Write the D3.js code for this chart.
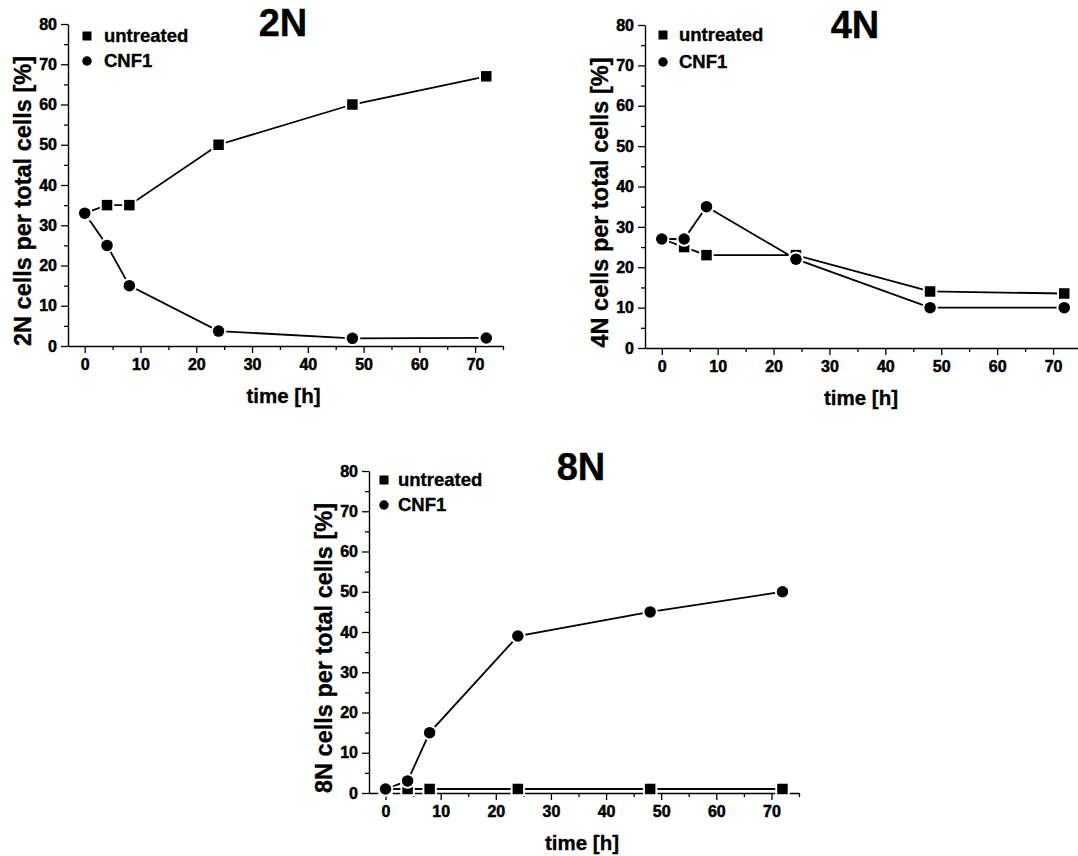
<!DOCTYPE html>
<html>
<head>
<meta charset="utf-8">
<script src="https://cdn.jsdelivr.net/npm/d3@7"></script>
<style>
  html, body { margin: 0; padding: 0; background: #fff; }
  svg { display: block; }
  svg text { font-family: "Liberation Sans", Arial, sans-serif; font-weight: bold; fill: #000; stroke: #000; stroke-width: 0.35px; }
  svg .tick text { font-size: 16px; stroke-width: 0.5px; }
</style>
</head>
<body>
<svg id="chart" width="1078" height="856"></svg>
<script>
// Sampling times (hours after treatment)
const hours = [0, 4, 8, 24, 48, 72];

// Percentage of cells per ploidy class
const untreated2N = [33, 35, 35, 50, 60, 67];
const cnf2N       = [33, 25, 15, 3.7, 1.9, 2];
const untreated4N = [27, 25, 23, 23, 14, 13.5];
const cnf4N       = [27, 27, 35, 22, 10, 10];
const untreated8N = [1, 1, 1, 1, 1, 1];
const cnf8N       = [1, 3, 15, 39, 45, 50];

// Axis ticks
const xTicks = [0, 10, 20, 30, 40, 50, 60, 70];
const xMinorTicks = [5, 15, 25, 35, 45, 55, 65, 75];
const yTicks = [0, 10, 20, 30, 40, 50, 60, 70, 80];
const yMinorTicks = [5, 15, 25, 35, 45, 55, 65, 75];

const seriesNames = ["untreated", "CNF1"];

// Panel layout
const panels = [
  { title: "2N", untreated: untreated2N, cnf: cnf2N,
    left: 68, right: 503, top: 24, bottom: 346,
    titleX: 283, titleY: 36, legDx: 19, legDy1: 12, legDy2: 37, legTx: 36 },
  { title: "4N", untreated: untreated4N, cnf: cnf4N,
    left: 645, right: 1081, top: 25, bottom: 348,
    titleX: 855, titleY: 38, legDx: 18, legDy1: 10, legDy2: 37, legTx: 34 },
  { title: "8N", untreated: untreated8N, cnf: cnf8N,
    left: 369, right: 799, top: 471, bottom: 793,
    titleX: 581, titleY: 480, legDx: 15, legDy1: 9, legDy2: 34, legTx: 29 }
];

const svg = d3.select("#chart");

const sq = d3.symbol().type(d3.symbolSquare);
const ci = d3.symbol().type(d3.symbolCircle);
const squareArea = s => s * s;
const circleArea = d => Math.PI * (d / 2) * (d / 2);

const styleAxis = a => {
  a.attr("font-size", null).attr("font-family", null);
  a.select(".domain").attr("stroke", "#000").attr("stroke-width", 1.4);
  a.selectAll("line").attr("stroke", "#000").attr("stroke-width", 1.3);
  a.selectAll("text")
    .attr("font-size", 16)
    .attr("font-weight", "bold")
    .style("font-size", "16px")
    .style("font-weight", "bold");
};

panels.forEach(p => {
  const g = svg.append("g");
  const x = d3.scaleLinear().domain([-3, 75]).range([p.left, p.right]);
  const y = d3.scaleLinear().domain([0, 80]).range([p.bottom, p.top]);

  // y axis: minor then major ticks
  g.append("g")
    .attr("transform", `translate(${p.left},0)`)
    .call(d3.axisLeft(y).tickValues(yMinorTicks).tickSize(4).tickFormat(""))
    .call(a => a.select(".domain").remove())
    .call(a => a.selectAll("line").attr("stroke", "#000").attr("stroke-width", 1.3));
  g.append("g")
    .attr("transform", `translate(${p.left},0)`)
    .call(d3.axisLeft(y).tickValues(yTicks).tickSize(7).tickSizeOuter(0).tickPadding(4))
    .call(styleAxis);

  // x axis
  g.append("g")
    .attr("transform", `translate(0,${p.bottom})`)
    .call(d3.axisBottom(x).tickValues(xMinorTicks).tickSize(4).tickFormat(""))
    .call(a => a.select(".domain").remove())
    .call(a => a.selectAll("line").attr("stroke", "#000").attr("stroke-width", 1.3));
  g.append("g")
    .attr("transform", `translate(0,${p.bottom})`)
    .call(d3.axisBottom(x).tickValues(xTicks).tickSize(7).tickSizeOuter(0).tickPadding(6))
    .call(styleAxis);

  // axis titles
  g.append("text")
    .attr("x", (p.left + p.right - 4) / 2)
    .attr("y", p.bottom + 57)
    .attr("text-anchor", "middle")
    .style("font-size", "20.5px")
    .text("time [h]");
  g.append("text")
    .attr("transform", `translate(${p.left - 37},${(p.top + p.bottom) / 2 + 16}) rotate(-90)`)
    .attr("text-anchor", "middle")
    .style("font-size", "23.5px")
    .text(`${p.title} cells per total cells [%]`);

  // panel title
  g.append("text")
    .attr("x", p.titleX)
    .attr("y", p.titleY)
    .attr("text-anchor", "middle")
    .style("font-size", "38px")
    .text(p.title);

  // connecting lines
  const line = d3.line().x((d, i) => x(hours[i])).y(d => y(d));
  [p.untreated, p.cnf].forEach(vals => {
    g.append("path")
      .attr("d", line(vals))
      .attr("fill", "none")
      .attr("stroke", "#000")
      .attr("stroke-width", 1.8);
  });

  // markers with a white rim that leaves a small gap to the lines
  const haloAndMark = (vals, shape, area, haloArea) => {
    const sel = g.append("g");
    vals.forEach((v, i) => {
      const t = `translate(${x(hours[i])},${y(v)})`;
      sel.append("path").attr("transform", t).attr("d", shape.size(haloArea)()).attr("fill", "#fff");
      sel.append("path").attr("transform", t).attr("d", shape.size(area)()).attr("fill", "#000");
    });
  };
  haloAndMark(p.untreated, sq, squareArea(10.5), squareArea(14.5));
  haloAndMark(p.cnf, ci, circleArea(11.5), circleArea(15.5));

  // legend
  const lx = p.left + p.legDx;
  g.append("path").attr("transform", `translate(${lx},${p.top + p.legDy1})`)
    .attr("d", sq.size(squareArea(9))()).attr("fill", "#000");
  g.append("path").attr("transform", `translate(${lx},${p.top + p.legDy2})`)
    .attr("d", ci.size(circleArea(9.5))()).attr("fill", "#000");
  g.append("text").attr("x", p.left + p.legTx).attr("y", p.top + p.legDy1)
    .attr("dy", "0.35em").style("font-size", "18.5px").text(seriesNames[0]);
  g.append("text").attr("x", p.left + p.legTx).attr("y", p.top + p.legDy2)
    .attr("dy", "0.35em").style("font-size", "18.5px").text(seriesNames[1]);
});
</script>
</body>
</html>
